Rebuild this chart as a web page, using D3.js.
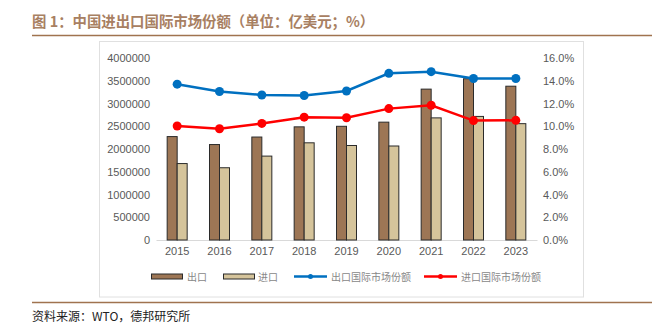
<!DOCTYPE html>
<html><head><meta charset="utf-8">
<script src="https://cdn.jsdelivr.net/npm/d3@7"></script>
<style>body{margin:0;background:#fff}svg{display:block}</style>
</head><body>
<svg id="c" width="662" height="326"></svg>
<script>
const years = ["2015","2016","2017","2018","2019","2020","2021","2022","2023"];
const exportVals = [2273000,2098000,2263000,2487000,2499000,2590000,3316000,3544000,3380000];
const importVals = [1680000,1588000,1844000,2136000,2077000,2066000,2684000,2716000,2557000];
const exportShare = [13.7,13.05,12.75,12.7,13.1,14.65,14.8,14.2,14.2];
const importShare = [10.02,9.78,10.25,10.8,10.75,11.55,11.85,10.5,10.52];
const leftTicks = [0,500000,1000000,1500000,2000000,2500000,3000000,3500000,4000000];
const rightTicks = [0,2,4,6,8,10,12,14,16];

const svg = d3.select("#c");
const font = "'Liberation Sans', Arial, sans-serif";
const cjk = "'Noto Sans CJK SC', sans-serif";

// title
svg.append("text").attr("x",32).attr("y",27).attr("font-family",cjk).attr("font-weight","bold")
  .attr("font-size",14.4).attr("fill","#a88062").text("图 1：中国进出口国际市场份额（单位：亿美元；%）");
svg.append("line").attr("x1",32).attr("x2",652).attr("y1",35.5).attr("y2",35.5).attr("stroke","#a0734f").attr("stroke-width",1.5);
// frame
svg.append("rect").attr("x",99.5).attr("y",41.5).attr("width",484).attr("height",255.5).attr("fill","none").attr("stroke","#e0e0e0");
// bottom line + source
svg.append("line").attr("x1",32).attr("x2",652).attr("y1",302.5).attr("y2",302.5).attr("stroke","#a0734f").attr("stroke-width",1.5);
svg.append("text").attr("x",32).attr("y",321).attr("font-family",cjk).attr("font-size",12).attr("fill","#222").text("资料来源：WTO，德邦研究所");

const x = d3.scaleBand().domain(years).range([156,537]);
const yL = d3.scaleLinear().domain([0,4000000]).range([240,58]);
const yR = d3.scaleLinear().domain([0,16]).range([240,58]);

// left axis
const gl = svg.append("g").attr("transform","translate(150,0)")
  .call(d3.axisLeft(yL).tickValues(leftTicks).tickSize(0).tickPadding(0).tickFormat(d3.format("d")));
gl.select(".domain").remove();
gl.selectAll("text").attr("font-family",font).attr("font-size",11).attr("fill","#595959");
// right axis
const gr = svg.append("g").attr("transform","translate(543,0)")
  .call(d3.axisRight(yR).tickValues(rightTicks).tickSize(0).tickPadding(0).tickFormat(d=>d.toFixed(1)+"%"));
gr.select(".domain").remove();
gr.selectAll("text").attr("font-family",font).attr("font-size",11).attr("fill","#595959");
// x axis
const gx = svg.append("g").attr("transform","translate(0,240)")
  .call(d3.axisBottom(x).tickSize(0).tickPadding(7));
gx.select(".domain").attr("stroke","#d9d9d9");
gx.selectAll("text").attr("font-family",font).attr("font-size",11).attr("fill","#595959");

const bw = 10;
const bars = svg.append("g");
bars.selectAll(".ex").data(years).join("rect")
  .attr("x",d=>x(d)+x.bandwidth()/2-bw).attr("width",bw)
  .attr("y",(d,i)=>yL(exportVals[i])).attr("height",(d,i)=>yL(0)-yL(exportVals[i]))
  .attr("fill","#9d7655").attr("stroke","#2b2b2b").attr("stroke-width",1);
bars.selectAll(".im").data(years).join("rect")
  .attr("x",d=>x(d)+x.bandwidth()/2).attr("width",bw)
  .attr("y",(d,i)=>yL(importVals[i])).attr("height",(d,i)=>yL(0)-yL(importVals[i]))
  .attr("fill","#d5c49b").attr("stroke","#2b2b2b").attr("stroke-width",1);

function series(vals,color){
  const line = d3.line().x((d,i)=>x(years[i])+x.bandwidth()/2).y(d=>yR(d));
  svg.append("path").datum(vals).attr("d",line).attr("fill","none").attr("stroke",color).attr("stroke-width",2.5);
  svg.append("g").selectAll("circle").data(vals).join("circle")
    .attr("cx",(d,i)=>x(years[i])+x.bandwidth()/2).attr("cy",d=>yR(d)).attr("r",4.5).attr("fill",color);
}
series(exportShare,"#0070c0");
series(importShare,"#ff0000");

// legend
const ly = 276.5;
const lg = svg.append("g");
const lc = "#888";
lg.append("rect").attr("x",151.5).attr("y",ly-2.5).attr("width",31).attr("height",5).attr("fill","#9d7655").attr("stroke","#2b2b2b");
lg.append("text").attr("x",187).attr("y",ly+4).attr("font-family",cjk).attr("font-size",10).attr("fill",lc).text("出口");
lg.append("rect").attr("x",223.5).attr("y",ly-2.5).attr("width",31).attr("height",5).attr("fill","#d5c49b").attr("stroke","#2b2b2b");
lg.append("text").attr("x",258).attr("y",ly+4).attr("font-family",cjk).attr("font-size",10).attr("fill",lc).text("进口");
lg.append("line").attr("x1",294).attr("x2",327).attr("y1",ly).attr("y2",ly).attr("stroke","#0070c0").attr("stroke-width",2.5);
lg.append("circle").attr("cx",310.5).attr("cy",ly).attr("r",2.5).attr("fill","#0070c0");
lg.append("text").attr("x",331).attr("y",ly+4).attr("font-family",cjk).attr("font-size",10).attr("fill",lc).text("出口国际市场份额");
lg.append("line").attr("x1",424).attr("x2",457).attr("y1",ly).attr("y2",ly).attr("stroke","#ff0000").attr("stroke-width",2.5);
lg.append("circle").attr("cx",440.5).attr("cy",ly).attr("r",2.5).attr("fill","#ff0000");
lg.append("text").attr("x",461).attr("y",ly+4).attr("font-family",cjk).attr("font-size",10).attr("fill",lc).text("进口国际市场份额");
</script>
</body></html>
